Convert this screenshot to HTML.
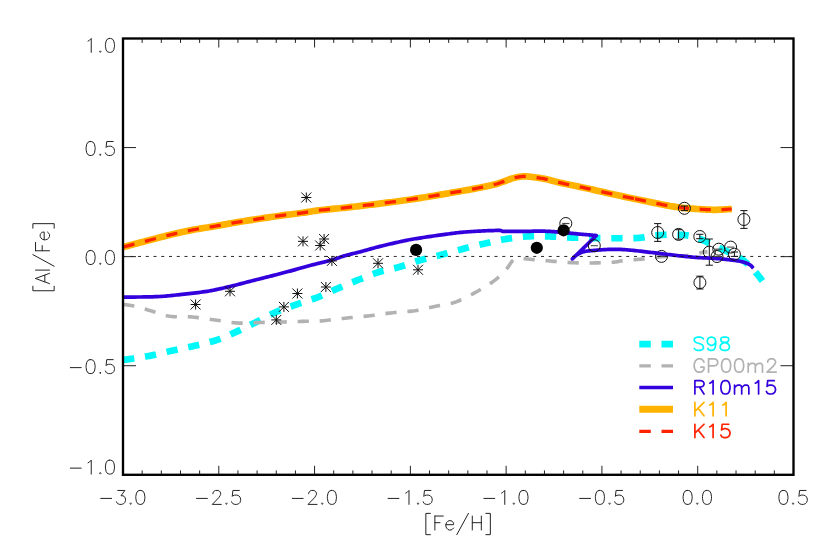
<!DOCTYPE html>
<html lang="en"><head><meta charset="utf-8"><title>[Al/Fe] vs [Fe/H]</title>
<style>
html,body{margin:0;padding:0;background:#fff;font-family:"Liberation Sans",sans-serif;}
svg{display:block}
</style></head><body>
<svg width="830" height="553" viewBox="0 0 830 553" role="img" aria-label="[Al/Fe] versus [Fe/H] abundance plot with model curves S98, GP00m2, R10m15, K11, K15">
<rect x="0" y="0" width="830" height="553" fill="#fff"/>
<path d="M123.00 359.90 L123.49 359.84 L123.89 359.80 L124.25 359.76 L124.58 359.73 L124.91 359.70 L125.27 359.67 L125.68 359.62 L126.16 359.57 L126.75 359.49 L127.47 359.39 L128.34 359.26 L129.40 359.10 L130.65 358.91 L132.09 358.69 L133.68 358.45 L135.40 358.19 L137.22 357.90 L139.12 357.61 L141.07 357.29 L143.05 356.97 L145.03 356.64 L146.98 356.30 L148.88 355.95 L150.70 355.60 L152.47 355.24 L154.25 354.86 L156.02 354.47 L157.79 354.06 L159.55 353.65 L161.33 353.23 L163.10 352.80 L164.87 352.37 L166.65 351.94 L168.43 351.52 L170.21 351.11 L172.00 350.70 L173.79 350.30 L175.59 349.91 L177.40 349.53 L179.20 349.15 L181.01 348.77 L182.82 348.39 L184.64 348.00 L186.45 347.62 L188.27 347.23 L190.08 346.83 L191.89 346.42 L193.70 346.00 L195.52 345.58 L197.34 345.16 L199.17 344.74 L201.01 344.32 L202.85 343.90 L204.68 343.46 L206.51 343.02 L208.32 342.56 L210.12 342.08 L211.90 341.58 L213.67 341.05 L215.40 340.50 L217.11 339.92 L218.78 339.32 L220.44 338.70 L222.07 338.05 L223.70 337.39 L225.31 336.71 L226.91 336.02 L228.51 335.31 L230.12 334.60 L231.73 333.87 L233.36 333.14 L235.00 332.40 L236.65 331.65 L238.31 330.88 L239.97 330.10 L241.64 329.30 L243.30 328.50 L244.97 327.68 L246.65 326.86 L248.32 326.03 L249.99 325.20 L251.66 324.36 L253.33 323.53 L255.00 322.70 L256.67 321.86 L258.33 321.00 L260.00 320.12 L261.67 319.24 L263.33 318.35 L265.00 317.46 L266.67 316.58 L268.33 315.72 L270.00 314.87 L271.67 314.05 L273.33 313.26 L275.00 312.50 L276.65 311.78 L278.28 311.11 L279.88 310.46 L281.48 309.84 L283.08 309.24 L284.69 308.65 L286.31 308.07 L287.96 307.48 L289.65 306.89 L291.38 306.28 L293.16 305.65 L295.00 305.00 L296.93 304.32 L298.96 303.62 L301.07 302.91 L303.24 302.19 L305.44 301.46 L307.66 300.73 L309.86 299.99 L312.04 299.26 L314.16 298.53 L316.21 297.81 L318.16 297.10 L320.00 296.40 L321.71 295.72 L323.32 295.05 L324.84 294.39 L326.30 293.73 L327.70 293.08 L329.06 292.43 L330.41 291.78 L331.76 291.14 L333.12 290.49 L334.53 289.83 L335.98 289.17 L337.50 288.50 L339.07 287.82 L340.67 287.14 L342.29 286.45 L343.93 285.76 L345.58 285.06 L347.25 284.37 L348.93 283.67 L350.63 282.97 L352.34 282.28 L354.05 281.58 L355.77 280.89 L357.50 280.20 L359.24 279.50 L361.00 278.79 L362.78 278.07 L364.57 277.35 L366.38 276.62 L368.19 275.91 L370.00 275.20 L371.81 274.51 L373.62 273.84 L375.43 273.19 L377.22 272.58 L379.00 272.00 L380.77 271.47 L382.54 270.98 L384.31 270.52 L386.07 270.10 L387.84 269.69 L389.59 269.30 L391.35 268.91 L393.09 268.53 L394.83 268.13 L396.56 267.71 L398.29 267.27 L400.00 266.80 L401.69 266.30 L403.36 265.77 L405.01 265.23 L406.65 264.67 L408.28 264.10 L409.91 263.53 L411.54 262.96 L413.19 262.39 L414.85 261.82 L416.53 261.26 L418.25 260.72 L420.00 260.20 L421.80 259.69 L423.63 259.20 L425.51 258.71 L427.41 258.23 L429.32 257.75 L431.25 257.28 L433.18 256.82 L435.09 256.35 L436.99 255.89 L438.87 255.43 L440.70 254.97 L442.50 254.50 L444.25 254.03 L445.95 253.57 L447.62 253.11 L449.26 252.65 L450.88 252.19 L452.50 251.74 L454.12 251.28 L455.74 250.83 L457.38 250.37 L459.05 249.91 L460.75 249.46 L462.50 249.00 L464.29 248.54 L466.12 248.07 L467.97 247.60 L469.85 247.13 L471.75 246.66 L473.66 246.19 L475.57 245.73 L477.48 245.27 L479.39 244.81 L481.28 244.36 L483.15 243.93 L485.00 243.50 L486.83 243.08 L488.64 242.66 L490.45 242.24 L492.24 241.82 L494.03 241.41 L495.81 241.01 L497.59 240.62 L499.37 240.24 L501.15 239.88 L502.93 239.53 L504.71 239.21 L506.50 238.90 L508.29 238.61 L510.08 238.33 L511.86 238.07 L513.65 237.81 L515.43 237.58 L517.22 237.36 L519.01 237.15 L520.80 236.96 L522.59 236.79 L524.39 236.64 L526.19 236.51 L528.00 236.40 L529.81 236.31 L531.60 236.25 L533.39 236.22 L535.19 236.20 L536.98 236.20 L538.78 236.22 L540.60 236.25 L542.43 236.29 L544.28 236.34 L546.15 236.39 L548.06 236.44 L550.00 236.50 L551.98 236.56 L553.99 236.64 L556.04 236.74 L558.11 236.84 L560.20 236.96 L562.31 237.07 L564.43 237.19 L566.56 237.31 L568.68 237.42 L570.80 237.53 L572.91 237.62 L575.00 237.70 L577.08 237.77 L579.17 237.83 L581.25 237.89 L583.33 237.94 L585.42 237.98 L587.50 238.02 L589.58 238.06 L591.67 238.10 L593.75 238.13 L595.83 238.15 L597.92 238.18 L600.00 238.20 L602.12 238.22 L604.28 238.23 L606.48 238.24 L608.70 238.25 L610.92 238.26 L613.12 238.26 L615.29 238.25 L617.41 238.25 L619.45 238.24 L621.41 238.23 L623.27 238.22 L625.00 238.20 L626.60 238.19 L628.08 238.18 L629.45 238.17 L630.74 238.17 L631.96 238.16 L633.12 238.14 L634.26 238.12 L635.37 238.09 L636.48 238.04 L637.62 237.98 L638.78 237.90 L640.00 237.80 L641.23 237.67 L642.44 237.51 L643.63 237.33 L644.81 237.13 L646.00 236.91 L647.19 236.69 L648.40 236.46 L649.63 236.24 L650.90 236.03 L652.21 235.83 L653.57 235.65 L655.00 235.50 L656.51 235.36 L658.10 235.23 L659.75 235.10 L661.46 234.98 L663.21 234.86 L664.97 234.76 L666.73 234.67 L668.48 234.60 L670.20 234.54 L671.87 234.51 L673.47 234.49 L675.00 234.50 L676.46 234.53 L677.89 234.58 L679.29 234.65 L680.66 234.74 L682.00 234.84 L683.31 234.96 L684.58 235.10 L685.83 235.25 L687.04 235.42 L688.22 235.60 L689.38 235.79 L690.50 236.00 L691.57 236.22 L692.56 236.44 L693.49 236.67 L694.38 236.91 L695.23 237.17 L696.07 237.44 L696.91 237.74 L697.77 238.06 L698.65 238.40 L699.57 238.77 L700.55 239.17 L701.60 239.60 L702.73 240.08 L703.93 240.62 L705.19 241.20 L706.49 241.82 L707.82 242.47 L709.16 243.13 L710.50 243.79 L711.83 244.44 L713.13 245.08 L714.38 245.70 L715.58 246.27 L716.70 246.80 L717.76 247.28 L718.76 247.73 L719.72 248.15 L720.65 248.56 L721.54 248.94 L722.42 249.31 L723.28 249.68 L724.13 250.04 L724.98 250.41 L725.84 250.79 L726.71 251.19 L727.60 251.60 L728.51 252.03 L729.43 252.45 L730.36 252.88 L731.29 253.31 L732.21 253.75 L733.14 254.19 L734.05 254.64 L734.96 255.10 L735.85 255.56 L736.72 256.03 L737.57 256.51 L738.40 257.00 L739.20 257.50 L739.98 258.01 L740.75 258.52 L741.50 259.04 L742.23 259.57 L742.95 260.11 L743.66 260.66 L744.36 261.21 L745.05 261.77 L745.74 262.34 L746.42 262.92 L747.10 263.50 L747.77 264.08 L748.41 264.65 L749.04 265.22 L749.65 265.79 L750.26 266.37 L750.86 266.96 L751.47 267.57 L752.08 268.21 L752.71 268.87 L753.35 269.57 L754.01 270.31 L754.70 271.10 L755.42 271.94 L756.15 272.83 L756.91 273.77 L757.67 274.75 L758.45 275.75 L759.24 276.78 L760.04 277.82 L760.84 278.87 L761.64 279.92 L762.43 280.97 L763.22 281.99 L764.00 283.00" fill="none" stroke="#00f8f8" stroke-width="6.7" stroke-dasharray="11.27 10.85" stroke-dashoffset="22.0"/>
<path d="M123.00 304.30 L123.98 304.46 L124.94 304.60 L125.87 304.73 L126.80 304.86 L127.72 304.98 L128.66 305.11 L129.61 305.25 L130.59 305.41 L131.61 305.59 L132.68 305.79 L133.81 306.03 L135.00 306.30 L136.27 306.61 L137.60 306.96 L138.99 307.34 L140.43 307.74 L141.90 308.17 L143.41 308.61 L144.93 309.06 L146.46 309.52 L148.00 309.98 L149.52 310.43 L151.02 310.87 L152.50 311.30 L153.94 311.73 L155.36 312.18 L156.76 312.65 L158.15 313.13 L159.54 313.60 L160.94 314.07 L162.35 314.52 L163.80 314.95 L165.27 315.35 L166.79 315.72 L168.37 316.03 L170.00 316.30 L171.70 316.50 L173.46 316.64 L175.27 316.72 L177.13 316.77 L179.02 316.78 L180.94 316.78 L182.87 316.76 L184.81 316.76 L186.76 316.76 L188.69 316.80 L190.61 316.87 L192.50 317.00 L194.38 317.17 L196.25 317.37 L198.12 317.59 L200.00 317.83 L201.88 318.09 L203.75 318.36 L205.62 318.63 L207.50 318.91 L209.38 319.20 L211.25 319.47 L213.12 319.74 L215.00 320.00 L216.88 320.26 L218.75 320.54 L220.62 320.83 L222.50 321.13 L224.38 321.43 L226.25 321.72 L228.12 322.00 L230.00 322.26 L231.88 322.50 L233.75 322.70 L235.62 322.87 L237.50 323.00 L239.38 323.08 L241.25 323.12 L243.12 323.12 L245.00 323.09 L246.88 323.04 L248.75 322.97 L250.62 322.89 L252.50 322.80 L254.38 322.71 L256.25 322.62 L258.12 322.55 L260.00 322.50 L261.88 322.46 L263.75 322.42 L265.62 322.38 L267.50 322.34 L269.38 322.30 L271.25 322.26 L273.12 322.22 L275.00 322.18 L276.88 322.14 L278.75 322.09 L280.62 322.05 L282.50 322.00 L284.40 321.95 L286.34 321.89 L288.30 321.83 L290.28 321.77 L292.25 321.70 L294.22 321.64 L296.16 321.57 L298.06 321.51 L299.90 321.45 L301.68 321.40 L303.39 321.34 L305.00 321.30 L306.48 321.27 L307.82 321.26 L309.04 321.26 L310.19 321.26 L311.28 321.27 L312.34 321.28 L313.42 321.28 L314.54 321.27 L315.72 321.24 L317.01 321.19 L318.42 321.11 L320.00 321.00 L321.73 320.85 L323.59 320.67 L325.55 320.47 L327.59 320.24 L329.71 320.00 L331.88 319.74 L334.08 319.47 L336.30 319.20 L338.52 318.94 L340.72 318.68 L342.88 318.43 L345.00 318.20 L347.09 317.98 L349.19 317.77 L351.30 317.57 L353.42 317.36 L355.53 317.16 L357.64 316.96 L359.75 316.76 L361.84 316.56 L363.91 316.35 L365.97 316.14 L368.00 315.92 L370.00 315.70 L371.97 315.46 L373.92 315.22 L375.85 314.96 L377.75 314.70 L379.64 314.43 L381.52 314.17 L383.39 313.90 L385.25 313.64 L387.11 313.39 L388.97 313.15 L390.83 312.92 L392.70 312.70 L394.58 312.51 L396.47 312.34 L398.36 312.18 L400.25 312.04 L402.14 311.91 L404.02 311.78 L405.89 311.65 L407.75 311.50 L409.60 311.34 L411.42 311.15 L413.22 310.94 L415.00 310.70 L416.75 310.42 L418.47 310.12 L420.16 309.78 L421.84 309.43 L423.50 309.07 L425.14 308.69 L426.78 308.30 L428.42 307.91 L430.05 307.52 L431.69 307.14 L433.34 306.76 L435.00 306.40 L436.67 306.06 L438.33 305.76 L440.00 305.47 L441.67 305.19 L443.33 304.91 L445.00 304.62 L446.67 304.32 L448.33 303.99 L450.00 303.62 L451.67 303.21 L453.33 302.74 L455.00 302.20 L456.67 301.60 L458.33 300.96 L460.00 300.27 L461.67 299.54 L463.33 298.77 L465.00 297.97 L466.67 297.15 L468.33 296.29 L470.00 295.42 L471.67 294.52 L473.33 293.62 L475.00 292.70 L476.69 291.75 L478.43 290.76 L480.20 289.73 L481.98 288.67 L483.76 287.59 L485.53 286.50 L487.27 285.40 L488.96 284.30 L490.60 283.22 L492.16 282.15 L493.63 281.11 L495.00 280.10 L496.27 279.11 L497.47 278.13 L498.60 277.15 L499.67 276.18 L500.67 275.22 L501.62 274.28 L502.53 273.34 L503.39 272.43 L504.21 271.54 L505.00 270.66 L505.76 269.82 L506.50 269.00 L507.19 268.20 L507.82 267.40 L508.40 266.61 L508.93 265.84 L509.42 265.09 L509.88 264.36 L510.31 263.67 L510.74 263.00 L511.16 262.38 L511.59 261.80 L512.04 261.27 L512.50 260.80 L512.97 260.38 L513.43 260.02 L513.88 259.70 L514.31 259.43 L514.75 259.20 L515.19 259.01 L515.63 258.84 L516.07 258.70 L516.53 258.58 L517.00 258.48 L517.49 258.39 L518.00 258.30 L518.47 258.23 L518.87 258.19 L519.22 258.17 L519.56 258.18 L519.90 258.21 L520.28 258.26 L520.73 258.32 L521.28 258.40 L521.95 258.49 L522.77 258.58 L523.78 258.69 L525.00 258.80 L526.45 258.93 L528.12 259.07 L529.98 259.24 L532.00 259.42 L534.14 259.62 L536.38 259.82 L538.67 260.03 L541.00 260.23 L543.33 260.44 L545.62 260.64 L547.86 260.83 L550.00 261.00 L552.08 261.17 L554.17 261.34 L556.25 261.52 L558.33 261.70 L560.42 261.87 L562.50 262.04 L564.58 262.20 L566.67 262.35 L568.75 262.49 L570.83 262.61 L572.92 262.71 L575.00 262.80 L577.12 262.87 L579.28 262.91 L581.48 262.95 L583.70 262.96 L585.92 262.97 L588.12 262.96 L590.29 262.95 L592.41 262.93 L594.45 262.90 L596.41 262.87 L598.27 262.83 L600.00 262.80 L601.62 262.76 L603.14 262.72 L604.57 262.68 L605.93 262.63 L607.21 262.57 L608.44 262.51 L609.61 262.44 L610.74 262.36 L611.84 262.28 L612.91 262.19 L613.96 262.10 L615.00 262.00 L615.98 261.89 L616.87 261.76 L617.67 261.63 L618.41 261.49 L619.13 261.34 L619.82 261.18 L620.53 261.03 L621.27 260.87 L622.07 260.72 L622.94 260.57 L623.91 260.43 L625.00 260.30 L626.21 260.18 L627.51 260.07 L628.89 259.97 L630.34 259.87 L631.84 259.78 L633.39 259.68 L634.96 259.59 L636.55 259.49 L638.14 259.38 L639.72 259.26 L641.28 259.14 L642.80 259.00 L644.29 258.84 L645.77 258.67 L647.23 258.48 L648.70 258.29 L650.16 258.08 L651.64 257.88 L653.13 257.67 L654.64 257.47 L656.17 257.28 L657.74 257.10 L659.35 256.94 L661.00 256.80 L662.73 256.68 L664.56 256.58 L666.47 256.50 L668.42 256.43 L670.40 256.37 L672.39 256.32 L674.35 256.27 L676.27 256.21 L678.11 256.15 L679.87 256.08 L681.50 256.00 L683.00 255.90 L684.36 255.79 L685.63 255.67 L686.80 255.54 L687.89 255.40 L688.91 255.26 L689.88 255.12 L690.79 254.97 L691.67 254.82 L692.52 254.66 L693.35 254.51 L694.17 254.35 L695.00 254.20 L695.82 254.04 L696.61 253.87 L697.36 253.68 L698.09 253.50 L698.79 253.31 L699.47 253.12 L700.12 252.94 L700.74 252.76 L701.34 252.59 L701.92 252.44 L702.47 252.31 L703.00 252.20 L703.50 252.11 L703.95 252.04 L704.37 251.99 L704.76 251.95 L705.12 251.92 L705.47 251.90 L705.80 251.89 L706.13 251.87 L706.46 251.86 L706.79 251.85 L707.14 251.83 L707.50 251.80" fill="none" stroke="#b2b2b2" stroke-width="3.6" stroke-dasharray="11.21 10.85" stroke-dashoffset="21.85"/>
<g fill="none" stroke="#111" stroke-width="1"><circle cx="709.30" cy="252.10" r="6.0"/><path d="M709.30 239.00V265.20 M705.70 239.00h7.2 M705.70 265.20h7.2"/><circle cx="661.50" cy="256.40" r="6.0"/><path d="M657.90 256.40h7.2" stroke-width="1.10" stroke="#444"/></g>
<path d="M123.00 297.20 L125.91 297.15 L128.89 297.12 L131.91 297.08 L134.94 297.05 L137.98 297.02 L141.00 296.99 L143.98 296.95 L146.89 296.90 L149.72 296.85 L152.44 296.78 L155.05 296.70 L157.50 296.60 L159.78 296.49 L161.89 296.36 L163.86 296.23 L165.72 296.09 L167.49 295.93 L169.21 295.77 L170.91 295.60 L172.60 295.41 L174.33 295.22 L176.12 295.02 L178.00 294.82 L180.00 294.60 L182.11 294.38 L184.30 294.14 L186.55 293.90 L188.85 293.65 L191.18 293.39 L193.53 293.13 L195.88 292.85 L198.21 292.56 L200.52 292.26 L202.78 291.95 L204.98 291.63 L207.10 291.30 L209.16 290.95 L211.17 290.59 L213.15 290.22 L215.10 289.83 L217.02 289.43 L218.91 289.02 L220.77 288.61 L222.62 288.19 L224.46 287.77 L226.28 287.35 L228.09 286.92 L229.90 286.50 L231.70 286.07 L233.47 285.64 L235.23 285.20 L236.97 284.76 L238.69 284.31 L240.41 283.86 L242.11 283.41 L243.80 282.96 L245.48 282.51 L247.16 282.07 L248.83 281.63 L250.50 281.20 L252.16 280.78 L253.79 280.37 L255.40 279.97 L257.00 279.57 L258.59 279.17 L260.18 278.77 L261.77 278.38 L263.38 277.98 L265.00 277.57 L266.64 277.16 L268.30 276.74 L270.00 276.30 L271.73 275.85 L273.49 275.40 L275.27 274.94 L277.07 274.47 L278.89 274.00 L280.71 273.52 L282.55 273.04 L284.39 272.55 L286.22 272.06 L288.06 271.58 L289.88 271.09 L291.70 270.60 L293.52 270.11 L295.35 269.60 L297.20 269.09 L299.06 268.57 L300.91 268.05 L302.76 267.53 L304.59 267.02 L306.41 266.51 L308.21 266.01 L309.97 265.52 L311.71 265.05 L313.40 264.60 L315.06 264.17 L316.71 263.75 L318.33 263.35 L319.94 262.96 L321.52 262.58 L323.07 262.21 L324.61 261.85 L326.11 261.48 L327.58 261.12 L329.02 260.75 L330.43 260.38 L331.80 260.00 L333.12 259.61 L334.39 259.22 L335.60 258.83 L336.78 258.44 L337.93 258.04 L339.06 257.65 L340.17 257.26 L341.29 256.87 L342.41 256.49 L343.54 256.12 L344.70 255.76 L345.90 255.40 L347.11 255.06 L348.31 254.74 L349.51 254.43 L350.71 254.13 L351.92 253.83 L353.14 253.54 L354.38 253.24 L355.64 252.94 L356.93 252.63 L358.25 252.31 L359.60 251.96 L361.00 251.60 L362.43 251.22 L363.89 250.82 L365.37 250.40 L366.88 249.98 L368.42 249.54 L369.98 249.10 L371.57 248.65 L373.20 248.20 L374.85 247.75 L376.53 247.29 L378.25 246.84 L380.00 246.40 L381.81 245.95 L383.71 245.49 L385.67 245.01 L387.68 244.53 L389.72 244.05 L391.78 243.58 L393.82 243.10 L395.85 242.64 L397.84 242.20 L399.77 241.78 L401.63 241.37 L403.40 241.00 L405.06 240.66 L406.62 240.34 L408.10 240.05 L409.53 239.78 L410.91 239.52 L412.27 239.27 L413.64 239.04 L415.03 238.80 L416.46 238.56 L417.95 238.32 L419.52 238.07 L421.20 237.80 L423.00 237.52 L424.90 237.23 L426.89 236.93 L428.95 236.63 L431.05 236.33 L433.17 236.03 L435.28 235.73 L437.37 235.44 L439.41 235.16 L441.37 234.89 L443.25 234.64 L445.00 234.40 L446.62 234.18 L448.14 233.97 L449.56 233.77 L450.91 233.58 L452.21 233.40 L453.48 233.23 L454.75 233.06 L456.03 232.90 L457.34 232.75 L458.71 232.59 L460.16 232.45 L461.70 232.30 L463.35 232.16 L465.10 232.02 L466.93 231.88 L468.81 231.75 L470.72 231.62 L472.65 231.50 L474.57 231.38 L476.47 231.27 L478.32 231.17 L480.11 231.07 L481.81 230.98 L483.40 230.90 L484.93 230.83 L486.45 230.76 L487.95 230.70 L489.41 230.65 L490.82 230.60 L492.18 230.56 L493.47 230.53 L494.68 230.50 L495.80 230.47 L496.82 230.44 L497.72 230.42 L498.50 230.40 L499.13 230.38 L499.59 230.37 L499.92 230.36 L500.14 230.36 L500.26 230.36 L500.32 230.37 L500.33 230.37 L500.32 230.38 L500.31 230.39 L500.32 230.39 L500.38 230.40 L500.50 230.40 L502.50 231.40 L504.40 231.40 L506.34 231.40 L508.30 231.41 L510.28 231.41 L512.25 231.42 L514.22 231.42 L516.16 231.42 L518.06 231.42 L519.90 231.42 L521.68 231.42 L523.39 231.41 L525.00 231.40 L526.52 231.38 L527.94 231.36 L529.30 231.33 L530.59 231.29 L531.83 231.25 L533.02 231.21 L534.19 231.18 L535.34 231.14 L536.49 231.12 L537.64 231.10 L538.81 231.09 L540.00 231.10 L541.20 231.12 L542.36 231.14 L543.51 231.16 L544.64 231.20 L545.77 231.24 L546.90 231.28 L548.04 231.33 L549.19 231.39 L550.36 231.46 L551.57 231.53 L552.81 231.61 L554.10 231.70 L555.45 231.80 L556.87 231.91 L558.35 232.04 L559.86 232.18 L561.39 232.32 L562.94 232.47 L564.47 232.62 L565.99 232.77 L567.46 232.91 L568.88 233.05 L570.23 233.18 L571.50 233.30 L572.68 233.41 L573.79 233.51 L574.84 233.61 L575.84 233.70 L576.80 233.79 L577.73 233.88 L578.65 233.97 L579.56 234.05 L580.48 234.14 L581.42 234.22 L582.39 234.31 L583.40 234.40 L584.44 234.49 L585.49 234.58 L586.55 234.68 L587.63 234.77 L588.70 234.86 L589.79 234.95 L590.87 235.04 L591.96 235.13 L593.05 235.22 L594.14 235.32 L595.22 235.41 L596.30 235.50 L572.40 258.90 L572.67 258.63 L572.92 258.36 L573.15 258.09 L573.38 257.82 L573.60 257.55 L573.84 257.28 L574.09 257.01 L574.36 256.74 L574.65 256.46 L574.99 256.18 L575.37 255.89 L575.80 255.60 L576.28 255.29 L576.79 254.97 L577.33 254.63 L577.90 254.28 L578.51 253.93 L579.14 253.58 L579.79 253.24 L580.47 252.91 L581.18 252.59 L581.90 252.30 L582.64 252.03 L583.40 251.80 L584.19 251.60 L585.01 251.42 L585.87 251.27 L586.76 251.13 L587.67 251.02 L588.59 250.91 L589.53 250.82 L590.47 250.73 L591.42 250.65 L592.36 250.57 L593.29 250.49 L594.20 250.40 L595.10 250.31 L596.01 250.23 L596.92 250.15 L597.83 250.07 L598.73 250.00 L599.64 249.93 L600.55 249.87 L601.46 249.81 L602.37 249.75 L603.28 249.70 L604.19 249.65 L605.10 249.60 L606.00 249.55 L606.88 249.51 L607.75 249.46 L608.62 249.42 L609.48 249.38 L610.36 249.35 L611.24 249.32 L612.14 249.30 L613.06 249.29 L614.00 249.28 L614.98 249.28 L616.00 249.30 L617.03 249.32 L618.06 249.35 L619.10 249.39 L620.15 249.43 L621.22 249.47 L622.33 249.53 L623.46 249.60 L624.65 249.67 L625.89 249.76 L627.19 249.86 L628.55 249.97 L630.00 250.10 L631.54 250.24 L633.17 250.41 L634.88 250.58 L636.66 250.77 L638.50 250.98 L640.37 251.19 L642.27 251.40 L644.18 251.63 L646.09 251.85 L647.99 252.07 L649.87 252.29 L651.70 252.50 L653.51 252.71 L655.32 252.93 L657.13 253.14 L658.94 253.36 L660.75 253.59 L662.56 253.81 L664.37 254.03 L666.17 254.25 L667.98 254.47 L669.79 254.68 L671.60 254.89 L673.40 255.10 L675.23 255.30 L677.09 255.51 L678.97 255.72 L680.87 255.93 L682.77 256.14 L684.65 256.34 L686.51 256.54 L688.33 256.72 L690.10 256.90 L691.81 257.07 L693.45 257.22 L695.00 257.35 L696.46 257.46 L697.83 257.56 L699.13 257.63 L700.36 257.70 L701.55 257.75 L702.70 257.80 L703.82 257.84 L704.94 257.88 L706.05 257.92 L707.17 257.97 L708.32 258.03 L709.50 258.10 L710.70 258.18 L711.90 258.25 L713.10 258.33 L714.30 258.41 L715.50 258.50 L716.70 258.58 L717.90 258.67 L719.10 258.77 L720.30 258.87 L721.50 258.97 L722.70 259.08 L723.90 259.20 L725.13 259.33 L726.40 259.46 L727.69 259.60 L729.00 259.75 L730.30 259.90 L731.60 260.06 L732.87 260.21 L734.10 260.37 L735.29 260.53 L736.40 260.69 L737.45 260.85 L738.40 261.00 L739.26 261.15 L740.05 261.29 L740.77 261.44 L741.43 261.58 L742.03 261.72 L742.60 261.86 L743.13 262.01 L743.64 262.16 L744.13 262.31 L744.62 262.47 L745.10 262.63 L745.60 262.80 L746.10 262.98 L746.57 263.16 L747.03 263.34 L747.48 263.53 L747.91 263.72 L748.32 263.92 L748.72 264.12 L749.10 264.33 L749.47 264.54 L749.83 264.75 L750.17 264.97 L750.50 265.20 L750.81 265.43 L751.10 265.68 L751.37 265.93 L751.61 266.18 L751.85 266.44 L752.08 266.71 L752.29 266.97 L752.51 267.24 L752.72 267.51 L752.94 267.78 L753.16 268.04 L753.40 268.30" fill="none" stroke="#3300dd" stroke-width="3.7" stroke-linejoin="round"/>
<path d="M123.00 247.10 L125.27 246.50 L127.56 245.90 L129.88 245.29 L132.20 244.67 L134.53 244.06 L136.84 243.45 L139.14 242.84 L141.41 242.25 L143.64 241.66 L145.82 241.09 L147.94 240.54 L150.00 240.00 L151.99 239.48 L153.91 238.98 L155.77 238.49 L157.59 238.01 L159.36 237.55 L161.11 237.09 L162.84 236.65 L164.56 236.21 L166.28 235.77 L168.00 235.35 L169.74 234.92 L171.50 234.50 L173.28 234.08 L175.04 233.67 L176.81 233.26 L178.57 232.86 L180.32 232.47 L182.08 232.08 L183.84 231.70 L185.60 231.33 L187.36 230.96 L189.14 230.60 L190.91 230.25 L192.70 229.90 L194.50 229.57 L196.30 229.25 L198.11 228.94 L199.93 228.64 L201.75 228.34 L203.57 228.06 L205.40 227.77 L207.23 227.49 L209.05 227.20 L210.87 226.91 L212.69 226.61 L214.50 226.30 L216.31 225.98 L218.11 225.66 L219.91 225.33 L221.71 225.00 L223.51 224.67 L225.31 224.34 L227.10 224.00 L228.90 223.67 L230.70 223.35 L232.50 223.02 L234.30 222.71 L236.10 222.40 L237.90 222.10 L239.70 221.80 L241.50 221.51 L243.30 221.23 L245.10 220.94 L246.90 220.66 L248.70 220.38 L250.51 220.11 L252.32 219.83 L254.14 219.56 L255.97 219.28 L257.80 219.00 L259.64 218.72 L261.49 218.44 L263.35 218.16 L265.21 217.88 L267.08 217.60 L268.96 217.32 L270.83 217.04 L272.71 216.77 L274.58 216.49 L276.46 216.23 L278.33 215.96 L280.20 215.70 L282.08 215.44 L283.99 215.19 L285.92 214.94 L287.85 214.69 L289.79 214.45 L291.71 214.21 L293.62 213.97 L295.50 213.73 L297.35 213.49 L299.16 213.26 L300.91 213.03 L302.60 212.80 L304.20 212.57 L305.69 212.35 L307.10 212.13 L308.45 211.91 L309.77 211.70 L311.08 211.48 L312.39 211.27 L313.75 211.06 L315.16 210.84 L316.66 210.63 L318.26 210.42 L320.00 210.20 L321.88 209.98 L323.88 209.77 L325.98 209.55 L328.16 209.33 L330.41 209.12 L332.69 208.90 L334.99 208.68 L337.28 208.47 L339.55 208.25 L341.78 208.03 L343.93 207.82 L346.00 207.60 L347.99 207.38 L349.94 207.17 L351.85 206.95 L353.73 206.74 L355.59 206.53 L357.43 206.31 L359.25 206.10 L361.07 205.88 L362.88 205.66 L364.71 205.44 L366.54 205.22 L368.40 205.00 L370.27 204.77 L372.14 204.55 L374.02 204.32 L375.89 204.09 L377.77 203.86 L379.64 203.62 L381.52 203.39 L383.39 203.16 L385.25 202.92 L387.11 202.68 L388.96 202.44 L390.80 202.20 L392.63 201.96 L394.46 201.72 L396.27 201.48 L398.09 201.23 L399.89 200.99 L401.69 200.74 L403.49 200.50 L405.29 200.24 L407.09 199.99 L408.89 199.73 L410.69 199.47 L412.50 199.20 L414.30 198.93 L416.07 198.66 L417.83 198.38 L419.58 198.10 L421.33 197.82 L423.09 197.54 L424.87 197.25 L426.66 196.95 L428.49 196.65 L430.35 196.34 L432.25 196.02 L434.20 195.70 L436.24 195.36 L438.39 195.00 L440.61 194.62 L442.90 194.24 L445.21 193.84 L447.52 193.45 L449.81 193.06 L452.05 192.67 L454.21 192.30 L456.28 191.95 L458.22 191.61 L460.00 191.30 L461.62 191.02 L463.09 190.76 L464.43 190.53 L465.68 190.31 L466.85 190.11 L467.97 189.91 L469.06 189.72 L470.16 189.52 L471.27 189.31 L472.43 189.09 L473.67 188.86 L475.00 188.60 L476.44 188.32 L477.95 188.02 L479.54 187.71 L481.16 187.39 L482.81 187.06 L484.46 186.73 L486.09 186.40 L487.69 186.06 L489.22 185.73 L490.69 185.41 L492.05 185.10 L493.30 184.80 L494.43 184.51 L495.45 184.24 L496.39 183.97 L497.26 183.71 L498.06 183.45 L498.83 183.19 L499.57 182.94 L500.30 182.68 L501.03 182.42 L501.78 182.16 L502.57 181.88 L503.40 181.60 L504.27 181.30 L505.15 180.99 L506.04 180.66 L506.93 180.32 L507.83 179.98 L508.73 179.64 L509.63 179.31 L510.52 178.99 L511.41 178.68 L512.29 178.40 L513.15 178.13 L514.00 177.90 L514.83 177.69 L515.65 177.50 L516.45 177.32 L517.24 177.15 L518.03 177.00 L518.81 176.87 L519.59 176.75 L520.38 176.65 L521.17 176.56 L521.97 176.49 L522.78 176.44 L523.60 176.40 L524.43 176.38 L525.26 176.39 L526.09 176.41 L526.92 176.45 L527.76 176.50 L528.61 176.57 L529.46 176.66 L530.33 176.75 L531.22 176.85 L532.12 176.96 L533.05 177.08 L534.00 177.20 L534.98 177.33 L535.98 177.46 L537.00 177.60 L538.04 177.76 L539.10 177.92 L540.17 178.09 L541.25 178.27 L542.34 178.46 L543.43 178.65 L544.52 178.86 L545.61 179.08 L546.70 179.30 L547.74 179.53 L548.70 179.76 L549.62 180.00 L550.51 180.24 L551.41 180.49 L552.34 180.75 L553.32 181.03 L554.39 181.32 L555.56 181.63 L556.87 181.96 L558.34 182.32 L560.00 182.70 L561.86 183.11 L563.91 183.56 L566.13 184.03 L568.48 184.52 L570.94 185.03 L573.47 185.56 L576.07 186.09 L578.69 186.64 L581.31 187.18 L583.90 187.73 L586.44 188.27 L588.90 188.80 L591.31 189.33 L593.72 189.87 L596.12 190.41 L598.53 190.96 L600.94 191.51 L603.35 192.06 L605.76 192.61 L608.17 193.16 L610.57 193.70 L612.98 194.24 L615.39 194.77 L617.80 195.30 L620.24 195.82 L622.72 196.35 L625.23 196.88 L627.76 197.41 L630.29 197.93 L632.81 198.45 L635.29 198.96 L637.73 199.46 L640.10 199.95 L642.40 200.42 L644.60 200.87 L646.70 201.30 L648.69 201.71 L650.58 202.11 L652.38 202.49 L654.11 202.86 L655.78 203.22 L657.40 203.56 L658.98 203.89 L660.53 204.21 L662.07 204.53 L663.60 204.83 L665.14 205.12 L666.70 205.40 L668.23 205.67 L669.69 205.93 L671.10 206.18 L672.48 206.41 L673.84 206.64 L675.20 206.85 L676.58 207.06 L678.00 207.26 L679.47 207.45 L681.02 207.64 L682.66 207.82 L684.40 208.00 L686.30 208.18 L688.38 208.36 L690.59 208.53 L692.89 208.70 L695.25 208.86 L697.62 209.02 L699.97 209.16 L702.26 209.30 L704.44 209.42 L706.49 209.53 L708.35 209.62 L710.00 209.70 L711.43 209.76 L712.68 209.79 L713.78 209.81 L714.76 209.82 L715.63 209.81 L716.43 209.79 L717.18 209.77 L717.90 209.74 L718.61 209.70 L719.35 209.67 L720.14 209.63 L721.00 209.60 L721.90 209.57 L722.80 209.53 L723.70 209.49 L724.59 209.44 L725.48 209.39 L726.37 209.33 L727.26 209.28 L728.14 209.22 L729.03 209.16 L729.92 209.11 L730.81 209.05 L731.70 209.00" fill="none" stroke="#ffb300" stroke-width="6.7"/>
<path d="M123.00 247.10 L125.27 246.50 L127.56 245.90 L129.88 245.29 L132.20 244.67 L134.53 244.06 L136.84 243.45 L139.14 242.84 L141.41 242.25 L143.64 241.66 L145.82 241.09 L147.94 240.54 L150.00 240.00 L151.99 239.48 L153.91 238.98 L155.77 238.49 L157.59 238.01 L159.36 237.55 L161.11 237.09 L162.84 236.65 L164.56 236.21 L166.28 235.77 L168.00 235.35 L169.74 234.92 L171.50 234.50 L173.28 234.08 L175.04 233.67 L176.81 233.26 L178.57 232.86 L180.32 232.47 L182.08 232.08 L183.84 231.70 L185.60 231.33 L187.36 230.96 L189.14 230.60 L190.91 230.25 L192.70 229.90 L194.50 229.57 L196.30 229.25 L198.11 228.94 L199.93 228.64 L201.75 228.34 L203.57 228.06 L205.40 227.77 L207.23 227.49 L209.05 227.20 L210.87 226.91 L212.69 226.61 L214.50 226.30 L216.31 225.98 L218.11 225.66 L219.91 225.33 L221.71 225.00 L223.51 224.67 L225.31 224.34 L227.10 224.00 L228.90 223.67 L230.70 223.35 L232.50 223.02 L234.30 222.71 L236.10 222.40 L237.90 222.10 L239.70 221.80 L241.50 221.51 L243.30 221.23 L245.10 220.94 L246.90 220.66 L248.70 220.38 L250.51 220.11 L252.32 219.83 L254.14 219.56 L255.97 219.28 L257.80 219.00 L259.64 218.72 L261.49 218.44 L263.35 218.16 L265.21 217.88 L267.08 217.60 L268.96 217.32 L270.83 217.04 L272.71 216.77 L274.58 216.49 L276.46 216.23 L278.33 215.96 L280.20 215.70 L282.08 215.44 L283.99 215.19 L285.92 214.94 L287.85 214.69 L289.79 214.45 L291.71 214.21 L293.62 213.97 L295.50 213.73 L297.35 213.49 L299.16 213.26 L300.91 213.03 L302.60 212.80 L304.20 212.57 L305.69 212.35 L307.10 212.13 L308.45 211.91 L309.77 211.70 L311.08 211.48 L312.39 211.27 L313.75 211.06 L315.16 210.84 L316.66 210.63 L318.26 210.42 L320.00 210.20 L321.88 209.98 L323.88 209.77 L325.98 209.55 L328.16 209.33 L330.41 209.12 L332.69 208.90 L334.99 208.68 L337.28 208.47 L339.55 208.25 L341.78 208.03 L343.93 207.82 L346.00 207.60 L347.99 207.38 L349.94 207.17 L351.85 206.95 L353.73 206.74 L355.59 206.53 L357.43 206.31 L359.25 206.10 L361.07 205.88 L362.88 205.66 L364.71 205.44 L366.54 205.22 L368.40 205.00 L370.27 204.77 L372.14 204.55 L374.02 204.32 L375.89 204.09 L377.77 203.86 L379.64 203.62 L381.52 203.39 L383.39 203.16 L385.25 202.92 L387.11 202.68 L388.96 202.44 L390.80 202.20 L392.63 201.96 L394.46 201.72 L396.27 201.48 L398.09 201.23 L399.89 200.99 L401.69 200.74 L403.49 200.50 L405.29 200.24 L407.09 199.99 L408.89 199.73 L410.69 199.47 L412.50 199.20 L414.30 198.93 L416.07 198.66 L417.83 198.38 L419.58 198.10 L421.33 197.82 L423.09 197.54 L424.87 197.25 L426.66 196.95 L428.49 196.65 L430.35 196.34 L432.25 196.02 L434.20 195.70 L436.24 195.36 L438.39 195.00 L440.61 194.62 L442.90 194.24 L445.21 193.84 L447.52 193.45 L449.81 193.06 L452.05 192.67 L454.21 192.30 L456.28 191.95 L458.22 191.61 L460.00 191.30 L461.62 191.02 L463.09 190.76 L464.43 190.53 L465.68 190.31 L466.85 190.11 L467.97 189.91 L469.06 189.72 L470.16 189.52 L471.27 189.31 L472.43 189.09 L473.67 188.86 L475.00 188.60 L476.44 188.32 L477.95 188.02 L479.54 187.71 L481.16 187.39 L482.81 187.06 L484.46 186.73 L486.09 186.40 L487.69 186.06 L489.22 185.73 L490.69 185.41 L492.05 185.10 L493.30 184.80 L494.43 184.51 L495.45 184.24 L496.39 183.97 L497.26 183.71 L498.06 183.45 L498.83 183.19 L499.57 182.94 L500.30 182.68 L501.03 182.42 L501.78 182.16 L502.57 181.88 L503.40 181.60 L504.27 181.30 L505.15 180.99 L506.04 180.66 L506.93 180.32 L507.83 179.98 L508.73 179.64 L509.63 179.31 L510.52 178.99 L511.41 178.68 L512.29 178.40 L513.15 178.13 L514.00 177.90 L514.83 177.69 L515.65 177.50 L516.45 177.32 L517.24 177.15 L518.03 177.00 L518.81 176.87 L519.59 176.75 L520.38 176.65 L521.17 176.56 L521.97 176.49 L522.78 176.44 L523.60 176.40 L524.43 176.38 L525.26 176.39 L526.09 176.41 L526.92 176.45 L527.76 176.50 L528.61 176.57 L529.46 176.66 L530.33 176.75 L531.22 176.85 L532.12 176.96 L533.05 177.08 L534.00 177.20 L534.98 177.33 L535.98 177.46 L537.00 177.60 L538.04 177.76 L539.10 177.92 L540.17 178.09 L541.25 178.27 L542.34 178.46 L543.43 178.65 L544.52 178.86 L545.61 179.08 L546.70 179.30 L547.74 179.53 L548.70 179.76 L549.62 180.00 L550.51 180.24 L551.41 180.49 L552.34 180.75 L553.32 181.03 L554.39 181.32 L555.56 181.63 L556.87 181.96 L558.34 182.32 L560.00 182.70 L561.86 183.11 L563.91 183.56 L566.13 184.03 L568.48 184.52 L570.94 185.03 L573.47 185.56 L576.07 186.09 L578.69 186.64 L581.31 187.18 L583.90 187.73 L586.44 188.27 L588.90 188.80 L591.31 189.33 L593.72 189.87 L596.12 190.41 L598.53 190.96 L600.94 191.51 L603.35 192.06 L605.76 192.61 L608.17 193.16 L610.57 193.70 L612.98 194.24 L615.39 194.77 L617.80 195.30 L620.24 195.82 L622.72 196.35 L625.23 196.88 L627.76 197.41 L630.29 197.93 L632.81 198.45 L634.40 198.78" fill="none" stroke="#ff2200" stroke-width="3.3" stroke-dasharray="11.28 10.82" stroke-dashoffset="21.52"/>
<path d="M634.40 198.78 L635.29 198.96 L637.73 199.46 L640.10 199.95 L642.40 200.42 L644.60 200.87 L646.70 201.30 L648.69 201.71 L650.58 202.11 L652.38 202.49 L654.11 202.86 L655.78 203.22 L657.40 203.56 L658.98 203.89 L660.53 204.21 L662.07 204.53 L663.60 204.83 L665.14 205.12 L666.70 205.40 L668.23 205.67 L669.69 205.93 L671.10 206.18 L672.48 206.41 L673.84 206.64 L675.20 206.85 L676.58 207.06 L678.00 207.26 L679.47 207.45 L681.02 207.64 L682.66 207.82 L684.40 208.00 L686.30 208.18 L688.38 208.36 L690.59 208.53 L692.89 208.70 L695.25 208.86 L697.62 209.02 L699.97 209.16 L702.26 209.30 L704.44 209.42 L706.49 209.53 L708.35 209.62 L710.00 209.70 L711.43 209.76 L712.68 209.79 L713.78 209.81 L714.76 209.82 L715.63 209.81 L716.43 209.79 L717.18 209.77 L717.90 209.74 L718.61 209.70 L719.35 209.67 L720.14 209.63 L721.00 209.60 L721.90 209.57 L722.80 209.53 L723.70 209.49 L724.59 209.44 L725.48 209.39 L726.37 209.33 L727.26 209.28 L728.14 209.22 L729.03 209.16 L729.92 209.11 L730.81 209.05 L731.70 209.00" fill="none" stroke="#ff2200" stroke-width="3.3" stroke-dasharray="11.12 10.72" stroke-dashoffset="21.23"/>
<path d="M122.5 256.45H793.5" stroke="#111" stroke-width="0.9" stroke-dasharray="3.0 4.75" fill="none"/>
<path d="M301.30 197.50h10.0 M306.30 192.50v10.0 M301.30 192.50l10.0 10.0 M301.30 202.50l10.0 -10.0 M298.00 241.35h10.0 M303.00 236.35v10.0 M298.00 236.35l10.0 10.0 M298.00 246.35l10.0 -10.0 M315.20 245.50h10.0 M320.20 240.50v10.0 M315.20 240.50l10.0 10.0 M315.20 250.50l10.0 -10.0 M319.10 239.00h10.0 M324.10 234.00v10.0 M319.10 234.00l10.0 10.0 M319.10 244.00l10.0 -10.0 M326.90 260.90h10.0 M331.90 255.90v10.0 M326.90 255.90l10.0 10.0 M326.90 265.90l10.0 -10.0 M225.00 291.30h10.0 M230.00 286.30v10.0 M225.00 286.30l10.0 10.0 M225.00 296.30l10.0 -10.0 M190.60 304.50h10.0 M195.60 299.50v10.0 M190.60 299.50l10.0 10.0 M190.60 309.50l10.0 -10.0 M271.30 319.90h10.0 M276.30 314.90v10.0 M271.30 314.90l10.0 10.0 M271.30 324.90l10.0 -10.0 M278.90 306.90h10.0 M283.90 301.90v10.0 M278.90 301.90l10.0 10.0 M278.90 311.90l10.0 -10.0 M292.40 293.50h10.0 M297.40 288.50v10.0 M292.40 288.50l10.0 10.0 M292.40 298.50l10.0 -10.0 M320.90 287.00h10.0 M325.90 282.00v10.0 M320.90 282.00l10.0 10.0 M320.90 292.00l10.0 -10.0 M373.00 263.30h10.0 M378.00 258.30v10.0 M373.00 258.30l10.0 10.0 M373.00 268.30l10.0 -10.0 M413.00 269.80h10.0 M418.00 264.80v10.0 M413.00 264.80l10.0 10.0 M413.00 274.80l10.0 -10.0 " stroke="#111" stroke-width="1" fill="none"/>
<circle cx="416.1" cy="249.9" r="6.1" fill="#000"/>
<circle cx="536.8" cy="247.8" r="6.1" fill="#000"/>
<circle cx="563.6" cy="230.3" r="6.1" fill="#000"/>
<g fill="none" stroke="#111" stroke-width="1"><circle cx="718.80" cy="249.20" r="6.0"/><path d="M715.20 249.20h7.2" stroke-width="1.20" stroke="#444"/><circle cx="717.00" cy="256.50" r="6.0"/><path d="M713.40 256.50h7.2" stroke-width="1.20" stroke="#444"/><circle cx="730.60" cy="247.10" r="6.0"/><path d="M727.00 247.10h7.2" stroke-width="1.05" stroke="#444"/><circle cx="734.40" cy="254.20" r="6.0"/><path d="M734.40 252.00V256.40 M730.80 252.00h7.2 M730.80 256.40h7.2"/><circle cx="565.80" cy="223.50" r="6.0"/><path d="M562.20 223.50h7.2" stroke-width="1.20" stroke="#444"/><circle cx="594.30" cy="245.70" r="6.0"/><path d="M590.70 245.70h7.2" stroke-width="1.05" stroke="#444"/><circle cx="657.70" cy="232.50" r="6.0"/><path d="M657.70 223.60V241.40 M654.10 223.60h7.2 M654.10 241.40h7.2"/><circle cx="678.60" cy="234.40" r="6.0"/><path d="M678.60 229.70V239.10 M675.00 229.70h7.2 M675.00 239.10h7.2"/><circle cx="684.40" cy="208.30" r="6.0"/><path d="M684.40 206.00V210.60 M680.80 206.00h7.2 M680.80 210.60h7.2"/><circle cx="699.80" cy="236.50" r="6.0"/><path d="M699.80 234.30V238.70 M696.20 234.30h7.2 M696.20 238.70h7.2"/><circle cx="699.90" cy="282.60" r="6.0"/><path d="M699.90 276.20V289.00 M696.30 276.20h7.2 M696.30 289.00h7.2"/><circle cx="743.90" cy="219.50" r="6.0"/><path d="M743.90 210.60V228.40 M740.30 210.60h7.2 M740.30 228.40h7.2"/></g>
<path d="M123.00 474.8v-9.0 M123.00 38.5v9.0 M142.16 474.8v-4.4 M142.16 38.5v4.4 M161.31 474.8v-4.4 M161.31 38.5v4.4 M180.47 474.8v-4.4 M180.47 38.5v4.4 M199.63 474.8v-4.4 M199.63 38.5v4.4 M218.79 474.8v-9.0 M218.79 38.5v9.0 M237.94 474.8v-4.4 M237.94 38.5v4.4 M257.10 474.8v-4.4 M257.10 38.5v4.4 M276.26 474.8v-4.4 M276.26 38.5v4.4 M295.41 474.8v-4.4 M295.41 38.5v4.4 M314.57 474.8v-9.0 M314.57 38.5v9.0 M333.73 474.8v-4.4 M333.73 38.5v4.4 M352.89 474.8v-4.4 M352.89 38.5v4.4 M372.04 474.8v-4.4 M372.04 38.5v4.4 M391.20 474.8v-4.4 M391.20 38.5v4.4 M410.36 474.8v-9.0 M410.36 38.5v9.0 M429.51 474.8v-4.4 M429.51 38.5v4.4 M448.67 474.8v-4.4 M448.67 38.5v4.4 M467.83 474.8v-4.4 M467.83 38.5v4.4 M486.99 474.8v-4.4 M486.99 38.5v4.4 M506.14 474.8v-9.0 M506.14 38.5v9.0 M525.30 474.8v-4.4 M525.30 38.5v4.4 M544.46 474.8v-4.4 M544.46 38.5v4.4 M563.61 474.8v-4.4 M563.61 38.5v4.4 M582.77 474.8v-4.4 M582.77 38.5v4.4 M601.93 474.8v-9.0 M601.93 38.5v9.0 M621.09 474.8v-4.4 M621.09 38.5v4.4 M640.24 474.8v-4.4 M640.24 38.5v4.4 M659.40 474.8v-4.4 M659.40 38.5v4.4 M678.56 474.8v-4.4 M678.56 38.5v4.4 M697.71 474.8v-9.0 M697.71 38.5v9.0 M716.87 474.8v-4.4 M716.87 38.5v4.4 M736.03 474.8v-4.4 M736.03 38.5v4.4 M755.19 474.8v-4.4 M755.19 38.5v4.4 M774.34 474.8v-4.4 M774.34 38.5v4.4 M793.50 474.8v-9.0 M793.50 38.5v9.0 M123.0 147.57h13 M793.5 147.57h-13 M123.0 256.65h13 M793.5 256.65h-13 M123.0 365.73h13 M793.5 365.73h-13 " stroke="#222" stroke-width="1" fill="none"/>
<rect x="123.0" y="38.5" width="670.5" height="436.3" fill="none" stroke="#000" stroke-width="2.35"/>
<g transform="translate(122.60 504.40)" fill="none" stroke="#222" stroke-width="1.0" stroke-linecap="round" stroke-linejoin="round"><title>−3.0</title><path d="M-21.87 -5.99 L-11.03 -5.99 M-4.84 -13.96 L2.26 -13.96 L-1.61 -8.64 L0.32 -8.64 L1.61 -7.98 L2.26 -7.32 L2.90 -5.32 L2.90 -3.99 L2.26 -2.00 L0.97 -0.67 L-0.97 0.00 L-2.90 0.00 L-4.84 -0.67 L-5.48 -1.33 L-6.13 -2.66 M8.06 -1.33 L7.42 -0.67 L8.06 0.00 L8.71 -0.67 L8.06 -1.33 M17.09 -13.96 L15.16 -13.30 L13.87 -11.30 L13.22 -7.98 L13.22 -5.99 L13.87 -2.66 L15.16 -0.67 L17.09 0.00 L18.38 0.00 L20.32 -0.67 L21.61 -2.66 L22.25 -5.99 L22.25 -7.98 L21.61 -11.30 L20.32 -13.30 L18.38 -13.96 L17.09 -13.96"/></g>
<g transform="translate(218.39 504.40)" fill="none" stroke="#222" stroke-width="1.0" stroke-linecap="round" stroke-linejoin="round"><title>−2.5</title><path d="M-21.87 -5.99 L-11.03 -5.99 M-5.48 -10.64 L-5.48 -11.30 L-4.84 -12.64 L-4.19 -13.30 L-2.90 -13.96 L-0.32 -13.96 L0.97 -13.30 L1.61 -12.64 L2.26 -11.30 L2.26 -9.98 L1.61 -8.64 L0.32 -6.65 L-6.13 0.00 L2.90 0.00 M8.06 -1.33 L7.42 -0.67 L8.06 0.00 L8.71 -0.67 L8.06 -1.33 M20.96 -13.96 L14.51 -13.96 L13.87 -7.98 L14.51 -8.64 L16.45 -9.31 L18.38 -9.31 L20.32 -8.64 L21.61 -7.32 L22.25 -5.32 L22.25 -3.99 L21.61 -2.00 L20.32 -0.67 L18.38 0.00 L16.45 0.00 L14.51 -0.67 L13.87 -1.33 L13.22 -2.66"/></g>
<g transform="translate(314.17 504.40)" fill="none" stroke="#222" stroke-width="1.0" stroke-linecap="round" stroke-linejoin="round"><title>−2.0</title><path d="M-21.87 -5.99 L-11.03 -5.99 M-5.48 -10.64 L-5.48 -11.30 L-4.84 -12.64 L-4.19 -13.30 L-2.90 -13.96 L-0.32 -13.96 L0.97 -13.30 L1.61 -12.64 L2.26 -11.30 L2.26 -9.98 L1.61 -8.64 L0.32 -6.65 L-6.13 0.00 L2.90 0.00 M8.06 -1.33 L7.42 -0.67 L8.06 0.00 L8.71 -0.67 L8.06 -1.33 M17.09 -13.96 L15.16 -13.30 L13.87 -11.30 L13.22 -7.98 L13.22 -5.99 L13.87 -2.66 L15.16 -0.67 L17.09 0.00 L18.38 0.00 L20.32 -0.67 L21.61 -2.66 L22.25 -5.99 L22.25 -7.98 L21.61 -11.30 L20.32 -13.30 L18.38 -13.96 L17.09 -13.96"/></g>
<g transform="translate(409.96 504.40)" fill="none" stroke="#222" stroke-width="1.0" stroke-linecap="round" stroke-linejoin="round"><title>−1.5</title><path d="M-21.87 -5.99 L-11.03 -5.99 M-4.19 -11.30 L-2.90 -11.97 L-0.97 -13.96 L-0.97 0.00 M8.06 -1.33 L7.42 -0.67 L8.06 0.00 L8.71 -0.67 L8.06 -1.33 M20.96 -13.96 L14.51 -13.96 L13.87 -7.98 L14.51 -8.64 L16.45 -9.31 L18.38 -9.31 L20.32 -8.64 L21.61 -7.32 L22.25 -5.32 L22.25 -3.99 L21.61 -2.00 L20.32 -0.67 L18.38 0.00 L16.45 0.00 L14.51 -0.67 L13.87 -1.33 L13.22 -2.66"/></g>
<g transform="translate(505.74 504.40)" fill="none" stroke="#222" stroke-width="1.0" stroke-linecap="round" stroke-linejoin="round"><title>−1.0</title><path d="M-21.87 -5.99 L-11.03 -5.99 M-4.19 -11.30 L-2.90 -11.97 L-0.97 -13.96 L-0.97 0.00 M8.06 -1.33 L7.42 -0.67 L8.06 0.00 L8.71 -0.67 L8.06 -1.33 M17.09 -13.96 L15.16 -13.30 L13.87 -11.30 L13.22 -7.98 L13.22 -5.99 L13.87 -2.66 L15.16 -0.67 L17.09 0.00 L18.38 0.00 L20.32 -0.67 L21.61 -2.66 L22.25 -5.99 L22.25 -7.98 L21.61 -11.30 L20.32 -13.30 L18.38 -13.96 L17.09 -13.96"/></g>
<g transform="translate(601.53 504.40)" fill="none" stroke="#222" stroke-width="1.0" stroke-linecap="round" stroke-linejoin="round"><title>−0.5</title><path d="M-21.87 -5.99 L-11.03 -5.99 M-2.26 -13.96 L-4.19 -13.30 L-5.48 -11.30 L-6.13 -7.98 L-6.13 -5.99 L-5.48 -2.66 L-4.19 -0.67 L-2.26 0.00 L-0.97 0.00 L0.97 -0.67 L2.26 -2.66 L2.90 -5.99 L2.90 -7.98 L2.26 -11.30 L0.97 -13.30 L-0.97 -13.96 L-2.26 -13.96 M8.06 -1.33 L7.42 -0.67 L8.06 0.00 L8.71 -0.67 L8.06 -1.33 M20.96 -13.96 L14.51 -13.96 L13.87 -7.98 L14.51 -8.64 L16.45 -9.31 L18.38 -9.31 L20.32 -8.64 L21.61 -7.32 L22.25 -5.32 L22.25 -3.99 L21.61 -2.00 L20.32 -0.67 L18.38 0.00 L16.45 0.00 L14.51 -0.67 L13.87 -1.33 L13.22 -2.66"/></g>
<g transform="translate(697.31 504.40)" fill="none" stroke="#222" stroke-width="1.0" stroke-linecap="round" stroke-linejoin="round"><title>0.0</title><path d="M-10.32 -13.96 L-12.25 -13.30 L-13.54 -11.30 L-14.19 -7.98 L-14.19 -5.99 L-13.54 -2.66 L-12.25 -0.67 L-10.32 0.00 L-9.03 0.00 L-7.09 -0.67 L-5.80 -2.66 L-5.16 -5.99 L-5.16 -7.98 L-5.80 -11.30 L-7.09 -13.30 L-9.03 -13.96 L-10.32 -13.96 M0.00 -1.33 L-0.64 -0.67 L0.00 0.00 L0.65 -0.67 L0.00 -1.33 M9.03 -13.96 L7.10 -13.30 L5.81 -11.30 L5.16 -7.98 L5.16 -5.99 L5.81 -2.66 L7.10 -0.67 L9.03 0.00 L10.32 0.00 L12.26 -0.67 L13.55 -2.66 L14.19 -5.99 L14.19 -7.98 L13.55 -11.30 L12.26 -13.30 L10.32 -13.96 L9.03 -13.96"/></g>
<g transform="translate(793.10 504.40)" fill="none" stroke="#222" stroke-width="1.0" stroke-linecap="round" stroke-linejoin="round"><title>0.5</title><path d="M-10.32 -13.96 L-12.25 -13.30 L-13.54 -11.30 L-14.19 -7.98 L-14.19 -5.99 L-13.54 -2.66 L-12.25 -0.67 L-10.32 0.00 L-9.03 0.00 L-7.09 -0.67 L-5.80 -2.66 L-5.16 -5.99 L-5.16 -7.98 L-5.80 -11.30 L-7.09 -13.30 L-9.03 -13.96 L-10.32 -13.96 M0.00 -1.33 L-0.64 -0.67 L0.00 0.00 L0.65 -0.67 L0.00 -1.33 M12.90 -13.96 L6.45 -13.96 L5.81 -7.98 L6.45 -8.64 L8.39 -9.31 L10.32 -9.31 L12.26 -8.64 L13.55 -7.32 L14.19 -5.32 L14.19 -3.99 L13.55 -2.00 L12.26 -0.67 L10.32 0.00 L8.39 0.00 L6.45 -0.67 L5.81 -1.33 L5.16 -2.66"/></g>
<g transform="translate(116.40 52.40)" fill="none" stroke="#222" stroke-width="1.0" stroke-linecap="round" stroke-linejoin="round"><title>1.0</title><path d="M-28.38 -11.30 L-27.09 -11.97 L-25.16 -13.96 L-25.16 0.00 M-16.12 -1.33 L-16.77 -0.67 L-16.12 0.00 L-15.48 -0.67 L-16.12 -1.33 M-7.10 -13.96 L-9.03 -13.30 L-10.32 -11.30 L-10.97 -7.98 L-10.97 -5.99 L-10.32 -2.66 L-9.03 -0.67 L-7.10 0.00 L-5.81 0.00 L-3.87 -0.67 L-2.58 -2.66 L-1.94 -5.99 L-1.94 -7.98 L-2.58 -11.30 L-3.87 -13.30 L-5.81 -13.96 L-7.10 -13.96"/></g>
<g transform="translate(116.40 155.50)" fill="none" stroke="#222" stroke-width="1.0" stroke-linecap="round" stroke-linejoin="round"><title>0.5</title><path d="M-26.45 -13.96 L-28.38 -13.30 L-29.67 -11.30 L-30.32 -7.98 L-30.32 -5.99 L-29.67 -2.66 L-28.38 -0.67 L-26.45 0.00 L-25.16 0.00 L-23.22 -0.67 L-21.93 -2.66 L-21.29 -5.99 L-21.29 -7.98 L-21.93 -11.30 L-23.22 -13.30 L-25.16 -13.96 L-26.45 -13.96 M-16.12 -1.33 L-16.77 -0.67 L-16.12 0.00 L-15.48 -0.67 L-16.12 -1.33 M-3.23 -13.96 L-9.68 -13.96 L-10.32 -7.98 L-9.68 -8.64 L-7.74 -9.31 L-5.81 -9.31 L-3.87 -8.64 L-2.58 -7.32 L-1.94 -5.32 L-1.94 -3.99 L-2.58 -2.00 L-3.87 -0.67 L-5.81 0.00 L-7.74 0.00 L-9.68 -0.67 L-10.32 -1.33 L-10.97 -2.66"/></g>
<g transform="translate(116.40 264.50)" fill="none" stroke="#222" stroke-width="1.0" stroke-linecap="round" stroke-linejoin="round"><title>0.0</title><path d="M-26.45 -13.96 L-28.38 -13.30 L-29.67 -11.30 L-30.32 -7.98 L-30.32 -5.99 L-29.67 -2.66 L-28.38 -0.67 L-26.45 0.00 L-25.16 0.00 L-23.22 -0.67 L-21.93 -2.66 L-21.29 -5.99 L-21.29 -7.98 L-21.93 -11.30 L-23.22 -13.30 L-25.16 -13.96 L-26.45 -13.96 M-16.12 -1.33 L-16.77 -0.67 L-16.12 0.00 L-15.48 -0.67 L-16.12 -1.33 M-7.10 -13.96 L-9.03 -13.30 L-10.32 -11.30 L-10.97 -7.98 L-10.97 -5.99 L-10.32 -2.66 L-9.03 -0.67 L-7.10 0.00 L-5.81 0.00 L-3.87 -0.67 L-2.58 -2.66 L-1.94 -5.99 L-1.94 -7.98 L-2.58 -11.30 L-3.87 -13.30 L-5.81 -13.96 L-7.10 -13.96"/></g>
<g transform="translate(116.40 373.60)" fill="none" stroke="#222" stroke-width="1.0" stroke-linecap="round" stroke-linejoin="round"><title>−0.5</title><path d="M-46.05 -5.99 L-35.22 -5.99 M-26.45 -13.96 L-28.38 -13.30 L-29.67 -11.30 L-30.32 -7.98 L-30.32 -5.99 L-29.67 -2.66 L-28.38 -0.67 L-26.45 0.00 L-25.16 0.00 L-23.22 -0.67 L-21.93 -2.66 L-21.29 -5.99 L-21.29 -7.98 L-21.93 -11.30 L-23.22 -13.30 L-25.16 -13.96 L-26.45 -13.96 M-16.12 -1.33 L-16.77 -0.67 L-16.12 0.00 L-15.48 -0.67 L-16.12 -1.33 M-3.23 -13.96 L-9.68 -13.96 L-10.32 -7.98 L-9.68 -8.64 L-7.74 -9.31 L-5.81 -9.31 L-3.87 -8.64 L-2.58 -7.32 L-1.94 -5.32 L-1.94 -3.99 L-2.58 -2.00 L-3.87 -0.67 L-5.81 0.00 L-7.74 0.00 L-9.68 -0.67 L-10.32 -1.33 L-10.97 -2.66"/></g>
<g transform="translate(116.40 474.10)" fill="none" stroke="#222" stroke-width="1.0" stroke-linecap="round" stroke-linejoin="round"><title>−1.0</title><path d="M-46.05 -5.99 L-35.22 -5.99 M-28.38 -11.30 L-27.09 -11.97 L-25.16 -13.96 L-25.16 0.00 M-16.12 -1.33 L-16.77 -0.67 L-16.12 0.00 L-15.48 -0.67 L-16.12 -1.33 M-7.10 -13.96 L-9.03 -13.30 L-10.32 -11.30 L-10.97 -7.98 L-10.97 -5.99 L-10.32 -2.66 L-9.03 -0.67 L-7.10 0.00 L-5.81 0.00 L-3.87 -0.67 L-2.58 -2.66 L-1.94 -5.99 L-1.94 -7.98 L-2.58 -11.30 L-3.87 -13.30 L-5.81 -13.96 L-7.10 -13.96"/></g>
<g transform="translate(458.10 530.00)" fill="none" stroke="#222" stroke-width="1.0" stroke-linecap="round" stroke-linejoin="round"><title>[Fe/H]</title><path d="M-27.73 -16.62 L-32.25 -16.62 L-32.25 4.66 L-27.73 4.66 M-23.22 -13.96 L-23.22 0.00 M-23.22 -13.96 L-14.83 -13.96 M-23.22 -7.32 L-18.06 -7.32 M-12.25 -5.32 L-4.51 -5.32 L-4.51 -6.65 L-5.16 -7.98 L-5.80 -8.64 L-7.09 -9.31 L-9.03 -9.31 L-10.32 -8.64 L-11.61 -7.32 L-12.25 -5.32 L-12.25 -3.99 L-11.61 -2.00 L-10.32 -0.67 L-9.03 0.00 L-7.09 0.00 L-5.80 -0.67 L-4.51 -2.00 M10.32 -16.62 L-1.29 4.66 M14.19 -13.96 L14.19 0.00 M23.22 -13.96 L23.22 0.00 M14.19 -7.32 L23.22 -7.32 M27.74 -16.62 L32.25 -16.62 L32.25 4.66 L27.74 4.66"/></g>
<g transform="translate(49.50 257.20) rotate(-90)" fill="none" stroke="#222" stroke-width="1.0" stroke-linecap="round" stroke-linejoin="round"><title>[Al/Fe]</title><path d="M-29.03 -16.62 L-33.54 -16.62 L-33.54 4.66 L-29.03 4.66 M-21.29 -13.96 L-26.45 0.00 M-21.29 -13.96 L-16.13 0.00 M-24.51 -4.66 L-18.06 -4.66 M-12.90 -13.96 L-12.90 0.00 M2.58 -16.62 L-9.03 4.66 M6.45 -13.96 L6.45 0.00 M6.45 -13.96 L14.83 -13.96 M6.45 -7.32 L11.61 -7.32 M17.41 -5.32 L25.15 -5.32 L25.15 -6.65 L24.51 -7.98 L23.86 -8.64 L22.57 -9.31 L20.64 -9.31 L19.35 -8.64 L18.06 -7.32 L17.41 -5.32 L17.41 -3.99 L18.06 -2.00 L19.35 -0.67 L20.64 0.00 L22.57 0.00 L23.86 -0.67 L25.15 -2.00 M29.02 -16.62 L33.54 -16.62 L33.54 4.66 L29.02 4.66"/></g>
<path d="M639.3 344.1H673.0" stroke="#00f8f8" stroke-width="6.9" stroke-dasharray="11.5 10.7" fill="none"/>
<path d="M639.3 365.8H673.0" stroke="#b2b2b2" stroke-width="3.3" stroke-dasharray="11.5 10.7" fill="none"/>
<path d="M639.3 387.5H673.0" stroke="#3300dd" stroke-width="3.6" fill="none"/>
<path d="M639.3 409.3H673.0" stroke="#ffb300" stroke-width="7.0" fill="none"/>
<path d="M639.3 431.3H673.0" stroke="#ff2200" stroke-width="3.3" stroke-dasharray="11.5 10.7" fill="none"/>
<g transform="translate(692.30 350.40)" fill="none" stroke="#00f8f8" stroke-width="1.7" stroke-linecap="round" stroke-linejoin="round"><title>S98</title><path d="M11.05 -11.43 L9.75 -12.70 L7.80 -13.34 L5.20 -13.34 L3.25 -12.70 L1.95 -11.43 L1.95 -10.16 L2.60 -8.89 L3.25 -8.26 L4.55 -7.62 L8.45 -6.35 L9.75 -5.71 L10.40 -5.08 L11.05 -3.81 L11.05 -1.91 L9.75 -0.64 L7.80 0.00 L5.20 0.00 L3.25 -0.64 L1.95 -1.91 M23.40 -8.89 L22.75 -6.99 L21.45 -5.71 L19.50 -5.08 L18.85 -5.08 L16.90 -5.71 L15.60 -6.99 L14.95 -8.89 L14.95 -9.53 L15.60 -11.43 L16.90 -12.70 L18.85 -13.34 L19.50 -13.34 L21.45 -12.70 L22.75 -11.43 L23.40 -8.89 L23.40 -5.71 L22.75 -2.54 L21.45 -0.64 L19.50 0.00 L18.20 0.00 L16.25 -0.64 L15.60 -1.91 M31.20 -13.34 L29.25 -12.70 L28.60 -11.43 L28.60 -10.16 L29.25 -8.89 L30.55 -8.26 L33.15 -7.62 L35.10 -6.99 L36.40 -5.71 L37.05 -4.45 L37.05 -2.54 L36.40 -1.27 L35.75 -0.64 L33.80 0.00 L31.20 0.00 L29.25 -0.64 L28.60 -1.27 L27.95 -2.54 L27.95 -4.45 L28.60 -5.71 L29.90 -6.99 L31.85 -7.62 L34.45 -8.26 L35.75 -8.89 L36.40 -10.16 L36.40 -11.43 L35.75 -12.70 L33.80 -13.34 L31.20 -13.34"/></g>
<g transform="translate(692.30 372.20)" fill="none" stroke="#b2b2b2" stroke-width="1.7" stroke-linecap="round" stroke-linejoin="round"><title>GP00m2</title><path d="M11.70 -10.16 L11.05 -11.43 L9.75 -12.70 L8.45 -13.34 L5.85 -13.34 L4.55 -12.70 L3.25 -11.43 L2.60 -10.16 L1.95 -8.26 L1.95 -5.08 L2.60 -3.17 L3.25 -1.91 L4.55 -0.64 L5.85 0.00 L8.45 0.00 L9.75 -0.64 L11.05 -1.91 L11.70 -3.17 L11.70 -5.08 M8.45 -5.08 L11.70 -5.08 M16.25 -13.34 L16.25 0.00 M16.25 -13.34 L22.10 -13.34 L24.05 -12.70 L24.70 -12.06 L25.35 -10.79 L25.35 -8.89 L24.70 -7.62 L24.05 -6.99 L22.10 -6.35 L16.25 -6.35 M33.15 -13.34 L31.20 -12.70 L29.90 -10.79 L29.25 -7.62 L29.25 -5.71 L29.90 -2.54 L31.20 -0.64 L33.15 0.00 L34.45 0.00 L36.40 -0.64 L37.70 -2.54 L38.35 -5.71 L38.35 -7.62 L37.70 -10.79 L36.40 -12.70 L34.45 -13.34 L33.15 -13.34 M46.15 -13.34 L44.20 -12.70 L42.90 -10.79 L42.25 -7.62 L42.25 -5.71 L42.90 -2.54 L44.20 -0.64 L46.15 0.00 L47.45 0.00 L49.40 -0.64 L50.70 -2.54 L51.35 -5.71 L51.35 -7.62 L50.70 -10.79 L49.40 -12.70 L47.45 -13.34 L46.15 -13.34 M55.90 -8.89 L55.90 0.00 M55.90 -6.35 L57.85 -8.26 L59.15 -8.89 L61.10 -8.89 L62.40 -8.26 L63.05 -6.35 L63.05 0.00 M63.05 -6.35 L65.00 -8.26 L66.30 -8.89 L68.25 -8.89 L69.55 -8.26 L70.20 -6.35 L70.20 0.00 M75.40 -10.16 L75.40 -10.79 L76.05 -12.06 L76.70 -12.70 L78.00 -13.34 L80.60 -13.34 L81.90 -12.70 L82.55 -12.06 L83.20 -10.79 L83.20 -9.53 L82.55 -8.26 L81.25 -6.35 L74.75 0.00 L83.85 0.00"/></g>
<g transform="translate(692.30 394.00)" fill="none" stroke="#3300dd" stroke-width="1.7" stroke-linecap="round" stroke-linejoin="round"><title>R10m15</title><path d="M2.60 -13.34 L2.60 0.00 M2.60 -13.34 L8.45 -13.34 L10.40 -12.70 L11.05 -12.06 L11.70 -10.79 L11.70 -9.53 L11.05 -8.26 L10.40 -7.62 L8.45 -6.99 L2.60 -6.99 M7.15 -6.99 L11.70 0.00 M17.55 -10.79 L18.85 -11.43 L20.80 -13.34 L20.80 0.00 M32.50 -13.34 L30.55 -12.70 L29.25 -10.79 L28.60 -7.62 L28.60 -5.71 L29.25 -2.54 L30.55 -0.64 L32.50 0.00 L33.80 0.00 L35.75 -0.64 L37.05 -2.54 L37.70 -5.71 L37.70 -7.62 L37.05 -10.79 L35.75 -12.70 L33.80 -13.34 L32.50 -13.34 M42.25 -8.89 L42.25 0.00 M42.25 -6.35 L44.20 -8.26 L45.50 -8.89 L47.45 -8.89 L48.75 -8.26 L49.40 -6.35 L49.40 0.00 M49.40 -6.35 L51.35 -8.26 L52.65 -8.89 L54.60 -8.89 L55.90 -8.26 L56.55 -6.35 L56.55 0.00 M63.05 -10.79 L64.35 -11.43 L66.30 -13.34 L66.30 0.00 M81.90 -13.34 L75.40 -13.34 L74.75 -7.62 L75.40 -8.26 L77.35 -8.89 L79.30 -8.89 L81.25 -8.26 L82.55 -6.99 L83.20 -5.08 L83.20 -3.81 L82.55 -1.91 L81.25 -0.64 L79.30 0.00 L77.35 0.00 L75.40 -0.64 L74.75 -1.27 L74.10 -2.54"/></g>
<g transform="translate(692.30 415.80)" fill="none" stroke="#ffb300" stroke-width="1.7" stroke-linecap="round" stroke-linejoin="round"><title>K11</title><path d="M2.60 -13.34 L2.60 0.00 M11.70 -13.34 L2.60 -4.45 M5.85 -7.62 L11.70 0.00 M17.55 -10.79 L18.85 -11.43 L20.80 -13.34 L20.80 0.00 M30.55 -10.79 L31.85 -11.43 L33.80 -13.34 L33.80 0.00"/></g>
<g transform="translate(692.30 437.60)" fill="none" stroke="#ff2200" stroke-width="1.7" stroke-linecap="round" stroke-linejoin="round"><title>K15</title><path d="M2.60 -13.34 L2.60 0.00 M11.70 -13.34 L2.60 -4.45 M5.85 -7.62 L11.70 0.00 M17.55 -10.79 L18.85 -11.43 L20.80 -13.34 L20.80 0.00 M36.40 -13.34 L29.90 -13.34 L29.25 -7.62 L29.90 -8.26 L31.85 -8.89 L33.80 -8.89 L35.75 -8.26 L37.05 -6.99 L37.70 -5.08 L37.70 -3.81 L37.05 -1.91 L35.75 -0.64 L33.80 0.00 L31.85 0.00 L29.90 -0.64 L29.25 -1.27 L28.60 -2.54"/></g>
</svg>
</body></html>
